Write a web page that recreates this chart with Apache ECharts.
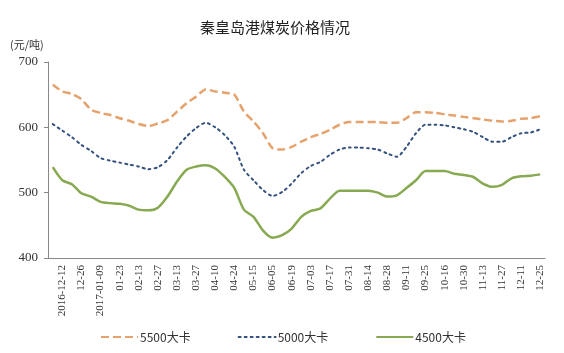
<!DOCTYPE html>
<html>
<head>
	<meta charset="UTF-8">
	<title>秦皇岛港煤炭价格情况</title>
	<script src="https://cdn.jsdelivr.net/npm/echarts@6/dist/echarts.min.js"></script>
	<style>
		body { margin: 0; background: #fff; }
	</style>
</head>
<body>
<div id="main" style="width: 564px;height:353px;"></div>
<script type="text/javascript">
	// 周度日期（标签隔一个显示）
	var dates = ['2016-12-05', '2016-12-12', '12-19', '12-26', '01-02', '2017-01-09', '01-16', '01-23', '02-06', '02-13',
		'02-20', '02-27', '03-06', '03-13', '03-20', '03-27', '04-03', '04-10', '04-17', '04-24',
		'05-08', '05-15', '05-29', '06-05', '06-12', '06-19', '06-26', '07-03', '07-10', '07-17',
		'07-24', '07-31', '08-07', '08-14', '08-21', '08-28', '09-04', '09-11', '09-18', '09-25',
		'10-09', '10-16', '10-23', '10-30', '11-06', '11-13', '11-20', '11-27', '12-04', '12-11',
		'12-18', '12-25'];

	var names = ['5500大卡', '5000大卡', '4500大卡'];

	var price5500 = [665, 655, 651, 643, 627, 622, 619, 614, 610, 605,
		602, 606, 611, 624, 637, 647, 658, 655, 653, 650,
		624, 609, 591, 568, 566, 570, 578, 585, 590, 596,
		604, 608, 608, 608, 608, 607, 607, 614, 623, 623,
		622, 620, 618, 616, 614, 612, 610, 609, 610, 613,
		614, 617];

	var price5000 = [605, 595, 585, 573, 564, 553, 549, 546, 543, 540,
		536, 539, 550, 569, 586, 599, 607, 600, 588, 570,
		535, 519, 504, 495, 501, 514, 530, 541, 547, 558,
		566, 569, 569, 568, 566, 560, 555, 570, 591, 604,
		604, 603, 600, 597, 593, 585, 578, 578, 585, 591,
		592, 597];

	var price4500 = [539, 519, 513, 499, 494, 486, 484, 483, 480, 474,
		473, 477, 494, 517, 535, 540, 542, 537, 524, 507,
		474, 463, 442, 431, 435, 445, 463, 472, 476, 491,
		503, 503, 503, 503, 500, 494, 496, 507, 519, 533,
		533, 533, 529, 527, 524, 514, 509, 512, 522, 525,
		526, 528];

	var yTicks = [400, 500, 600, 700];

	var serif = 'Liberation Serif';

	var myChart = echarts.init(document.getElementById('main'));

	var option = {
		backgroundColor: '#fff',
		animation: false,
		title: {
			text: '秦皇岛港煤炭价格情况',
			left: 270,
			textAlign: 'center',
			top: 15,
			textStyle: {
				fontFamily: 'Noto Sans CJK SC',
				fontSize: 15,
				fontWeight: 'normal',
				color: '#222'
			}
		},
		legend: {
			data: names,
			left: 95,
			top: 326,
			itemWidth: 37,
			itemHeight: 10,
			itemGap: 47,
			itemStyle: { opacity: 0 },   // 只保留线型，不画圆点
			textStyle: {
				fontFamily: 'Noto Sans CJK SC',
				fontSize: 12,
				color: '#333',
				padding: [0, 0, 0, -3]
			}
		},
		grid: {
			left: 48,
			right: 19,
			top: 62,
			bottom: 95
		},
		xAxis: {
			type: 'category',
			boundaryGap: true,
			data: dates,
			axisLine: { lineStyle: { color: '#888', width: 1 } },
			axisTick: {
				inside: true,
				length: 4,
				lineStyle: { color: '#888' },
				interval: function (index) { return index % 2 === 0; }
			},
			axisLabel: {
				rotate: 90,
				margin: 7,
				fontFamily: serif,
				fontSize: 11,
				color: '#333',
				interval: function (index) { return index % 2 === 1; }
			}
		},
		yAxis: {
			type: 'value',
			name: '(元/吨)',
			nameLocation: 'end',
			nameGap: 12,
			nameTextStyle: {
				fontFamily: 'Noto Sans CJK SC',
				fontSize: 11,
				color: '#333',
				align: 'left',
				padding: [0, 0, 0, -38]
			},
			min: yTicks[0],
			max: yTicks[yTicks.length - 1],
			interval: 100,
			axisLine: { show: true, lineStyle: { color: '#888', width: 1 } },
			axisTick: { show: true, length: 4, lineStyle: { color: '#888' } },
			splitLine: { show: false },
			axisLabel: {
				margin: 10,
				fontFamily: serif,
				fontSize: 13,
				color: '#333'
			}
		},
		series: [
			{
				name: names[0],
				type: 'line',
				data: price5500,
				symbol: 'none',
				smooth: 0.25,
				lineStyle: { color: '#E6A26C', width: 2.5, type: [8, 4] },
				itemStyle: { color: '#E6A26C' }
			},
			{
				name: names[1],
				type: 'line',
				data: price5000,
				symbol: 'none',
				smooth: 0.25,
				lineStyle: { color: '#34507E', width: 2, type: [2, 4], cap: 'round' },
				itemStyle: { color: '#34507E' }
			},
			{
				name: names[2],
				type: 'line',
				data: price4500,
				symbol: 'none',
				smooth: 0.25,
				lineStyle: { color: '#87A951', width: 2.5 },
				itemStyle: { color: '#87A951' }
			}
		]
	};

	myChart.setOption(option);
</script>
</body>
</html>
